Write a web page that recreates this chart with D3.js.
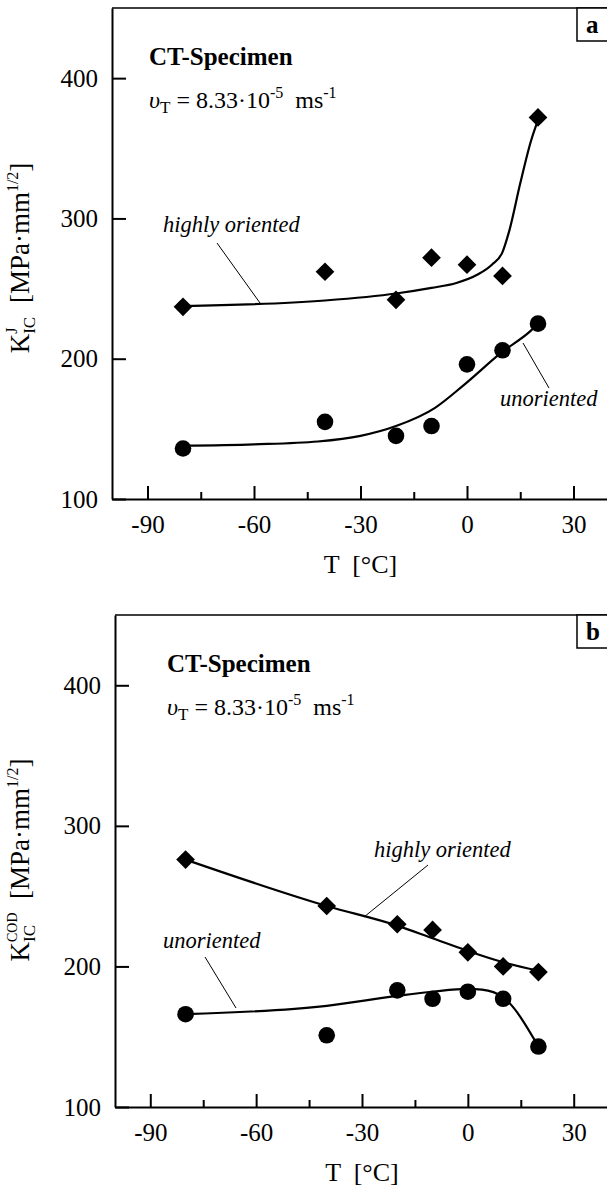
<!DOCTYPE html>
<html>
<head>
<meta charset="utf-8">
<script src="https://cdn.jsdelivr.net/npm/d3@7"></script>
<style>
  body { margin: 0; background: #fff; }
  svg { display: block; }
</style>
</head>
<body>
<div id="chart"></div>
<script>
// measured temperatures (same for both panels)
const temps = [-80, -40, -20, -10, 0, 10, 20];

// panel a : K_IC^J
const kjHighly = [237, 262, 242, 272, 267, 259, 372];
const kjUnoriented = [136, 155, 145, 152, 196, 206, 225];

// panel b : K_IC^COD
const kcodHighly = [276, 243, 230, 226, 210, 200, 196];
const kcodUnoriented = [166, 151, 183, 177, 182, 177, 143];

// hand drawn trend lines
const fitJHighlyT = [-80, -40, -20, -10, -3, 3, 7, 10, 12, 15, 18, 20];
const fitJHighlyK = [237.5, 241.5, 246.5, 250.5, 254, 260, 267, 276, 292, 325, 355, 370];
const fitJUnorT = [-80, -60, -42, -30, -20, -9, -1, 10, 18, 20];
const fitJUnorK = [138, 139, 141, 145, 152, 165, 181, 205, 220, 225];
const fitCodHighlyT = [-80, -40, -20, -10, 0, 10, 20];
const fitCodHighlyK = [276, 243, 229, 220, 211, 203, 197];
const fitCodUnorT = [-80, -40, -20, -10, 0, 4, 10, 20];
const fitCodUnorK = [166, 172, 179, 182, 184, 183.5, 178, 143];

const xTicks = [-90, -60, -30, 0, 30];
const xMinorTicks = [-75, -45, -15, 15];
const yTicks = [100, 200, 300, 400];

const FONT = '"Liberation Serif", "Times New Roman", serif';
const W = 607, H = 1188;
const svg = d3.select('#chart').append('svg')
    .attr('width', W)
    .attr('height', H)
    .style('font-family', FONT);

function zip(xs, ys) {
    return xs.map((x, i) => ({ t: x, k: ys[i] }));
}

function drawPanel(p) {
    const x = d3.scaleLinear().domain([-100, 40]).range([p.left, 609]);
    const y = d3.scaleLinear().domain([100, 450]).range([p.bottom, p.top]);
    const g = svg.append('g');

    // frame (top and right)
    g.append('path')
        .attr('d', `M${p.left},${p.top}H${x(40) + 2}V${p.bottom}`)
        .attr('fill', 'none').attr('stroke', '#000').attr('stroke-width', 1.5);

    // x axis, ticks pointing inward
    g.append('g').attr('transform', `translate(0,${p.bottom})`)
        .call(d3.axisBottom(x).tickValues(xTicks).tickSize(-13).tickSizeOuter(0)
            .tickPadding(16).tickFormat(d => String(d)));
    g.append('g').attr('transform', `translate(0,${p.bottom})`)
        .call(d3.axisBottom(x).tickValues(xMinorTicks).tickSize(-7).tickSizeOuter(0).tickFormat(''))
        .select('.domain').remove();

    g.append('g').attr('transform', `translate(${p.left},0)`)
        .call(d3.axisLeft(y).tickValues(yTicks).tickSize(-14).tickSizeOuter(0)
            .tickPadding(14).tickFormat(d => String(d)));

    g.selectAll('.domain, .tick line').attr('stroke', '#000').attr('stroke-width', 2);
    g.selectAll('.tick text')
        .attr('fill', '#000')
        .style('font-family', FONT)
        .style('font-size', '25px');

    // x axis title
    g.append('text')
        .attr('x', x(-30)).attr('y', p.bottom + 74)
        .attr('text-anchor', 'middle')
        .style('font-size', '26px')
        .style('white-space', 'pre')
        .text('T  [°C]');

    // y axis title, rotated
    const yt = g.append('text')
        .attr('transform', `translate(29,${p.labelY}) rotate(-90)`)
        .attr('text-anchor', 'middle')
        .style('font-size', '27px')
        .style('white-space', 'pre');
    yt.append('tspan').text('K');
    yt.append('tspan').style('font-size', '17px').attr('dy', 6).text('IC');
    yt.append('tspan').style('font-size', p.supSize).attr('dx', -17).attr('dy', -18).text(p.sup);
    yt.append('tspan').attr('dx', p.supFwd).attr('dy', 12).text('  [MPa·mm');
    yt.append('tspan').style('font-size', '16px').attr('dy', -11).text('1/2');
    yt.append('tspan').attr('dy', 11).text(']');

    // panel letter box
    g.append('rect')
        .attr('x', 577).attr('y', p.top).attr('width', 50).attr('height', 33)
        .attr('fill', '#fff').attr('stroke', '#000').attr('stroke-width', 1.5);
    g.append('text')
        .attr('x', 586).attr('y', p.top + 25)
        .style('font-size', '25px').style('font-weight', 'bold')
        .text(p.letter);

    // specimen info
    g.append('text')
        .attr('x', p.textX).attr('y', p.top + 57)
        .style('font-size', '25px').style('font-weight', 'bold')
        .text('CT-Specimen');
    const v = g.append('text')
        .attr('x', p.textX).attr('y', p.top + 100)
        .style('font-size', '24px')
        .style('white-space', 'pre');
    v.append('tspan').style('font-style', 'italic').text('υ');
    v.append('tspan').style('font-size', '17px').attr('dy', 5).text('T');
    v.append('tspan').attr('dy', -5).text(' = 8.33·10');
    v.append('tspan').style('font-size', '16px').attr('dy', -10).text('-5');
    v.append('tspan').attr('dy', 10).text('  ms');
    v.append('tspan').style('font-size', '16px').attr('dy', -10).text('-1');

    // trend lines
    const line = d3.line()
        .x(d => x(d.t)).y(d => y(d.k))
        .curve(d3.curveMonotoneX);
    p.fits.forEach(f => {
        g.append('path')
            .datum(f)
            .attr('d', line)
            .attr('fill', 'none').attr('stroke', '#000').attr('stroke-width', 2.2);
    });

    // data points
    g.selectAll('.dia')
        .data(p.highly)
        .enter()
        .append('path')
        .attr('d', d3.symbol(d3.symbolSquare, 175))
        .attr('transform', d => `translate(${x(d.t)},${y(d.k)}) rotate(45)`)
        .attr('fill', '#000');
    g.selectAll('.dot')
        .data(p.unor)
        .enter()
        .append('circle')
        .attr('cx', d => x(d.t)).attr('cy', d => y(d.k))
        .attr('r', 8.3)
        .attr('fill', '#000');

    // curve labels with leaders
    p.labels.forEach(l => {
        g.append('text')
            .attr('x', l.x).attr('y', l.y)
            .style('font-size', '22.5px').style('font-style', 'italic')
            .text(l.text);
        g.append('line')
            .attr('x1', l.from[0]).attr('y1', l.from[1])
            .attr('x2', l.to[0]).attr('y2', l.to[1])
            .attr('stroke', '#000').attr('stroke-width', 1);
    });
}

drawPanel({
    letter: 'a', top: 8, bottom: 499, left: 112, textX: 149, labelY: 258,
    sup: 'J', supSize: '16px', supFwd: 11,
    highly: zip(temps, kjHighly),
    unor: zip(temps, kjUnoriented),
    fits: [zip(fitJHighlyT, fitJHighlyK), zip(fitJUnorT, fitJUnorK)],
    labels: [
        { text: 'highly oriented', x: 163, y: 232, from: [217, 243], to: [260, 303] },
        { text: 'unoriented', x: 500, y: 406, from: [523, 343], to: [549, 388] }
    ]
});

drawPanel({
    letter: 'b', top: 615, bottom: 1107, left: 115, textX: 167, labelY: 860,
    sup: 'COD', supSize: '14px', supFwd: 0,
    highly: zip(temps, kcodHighly),
    unor: zip(temps, kcodUnoriented),
    fits: [zip(fitCodHighlyT, fitCodHighlyK), zip(fitCodUnorT, fitCodUnorK)],
    labels: [
        { text: 'highly oriented', x: 374, y: 857, from: [428, 865], to: [364, 917] },
        { text: 'unoriented', x: 163, y: 948, from: [205, 957], to: [236, 1008] }
    ]
});
</script>
</body>
</html>
